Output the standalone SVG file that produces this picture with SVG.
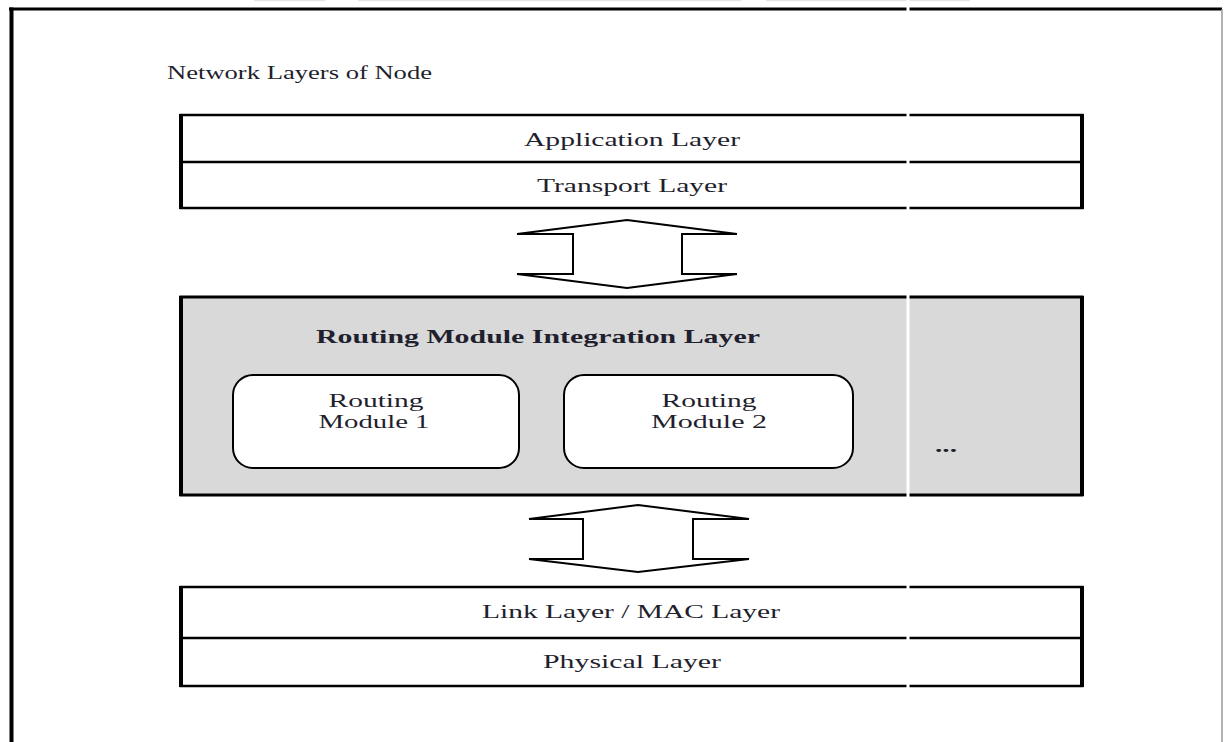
<svg xmlns="http://www.w3.org/2000/svg" width="1224" height="742" viewBox="0 0 1224 742">
  <style>
    .lbl { font-family: "Liberation Serif", "Times New Roman", serif; font-size: 19px; fill: #1f1f2e; text-anchor: middle; }
    .bold { font-weight: bold; }
    .box { fill: #ffffff; stroke: #000000; stroke-width: 2.5; }
    .side { stroke: #000000; stroke-width: 4; }
    .gray { fill: #d9d9d9; stroke: #000000; stroke-width: 3; }
    .module { fill: #ffffff; stroke: #000000; stroke-width: 2; }
    .arrow { fill: #ffffff; stroke: #000000; stroke-width: 2; stroke-linejoin: miter; }
  </style>

  <!-- page edge shading at the top -->
  <g id="page-edge" stroke="#e4e4e4" stroke-width="1.5">
    <line x1="254" y1="0.5" x2="325" y2="0.5"/>
    <line x1="358" y1="0.5" x2="741" y2="0.5"/>
    <line x1="766" y1="0.5" x2="970" y2="0.5"/>
  </g>

  <!-- outer frame -->
  <g id="frame">
    <line x1="9" y1="9" x2="1222" y2="9" stroke="#000" stroke-width="3"/>
    <line x1="11.5" y1="7.5" x2="11.5" y2="742" stroke="#000" stroke-width="4"/>
    <line x1="1222" y1="9" x2="1222" y2="742" stroke="#9a9a9a" stroke-width="1.5"/>
  </g>

  <text id="title" class="lbl" x="299.5" y="79" textLength="265" lengthAdjust="spacingAndGlyphs">Network Layers of Node</text>

  <!-- upper stack: application / transport -->
  <g id="upper-stack">
    <rect class="box" x="181" y="115" width="901" height="93"/>
    <line x1="181" y1="162" x2="1082" y2="162" stroke="#000" stroke-width="2.5"/>
    <line class="side" x1="181" y1="114" x2="181" y2="209"/>
    <line class="side" x1="1082" y1="114" x2="1082" y2="209"/>
    <text class="lbl" x="632" y="146" textLength="216" lengthAdjust="spacingAndGlyphs">Application Layer</text>
    <text class="lbl" x="632" y="192" textLength="190" lengthAdjust="spacingAndGlyphs">Transport Layer</text>
  </g>

  <!-- routing module integration layer -->
  <g id="integration-layer">
    <rect class="gray" x="181" y="297" width="901" height="198"/>
    <line class="side" x1="181" y1="296" x2="181" y2="496"/>
    <line class="side" x1="1082" y1="296" x2="1082" y2="496"/>
    <text class="lbl bold" x="538" y="343" textLength="444" lengthAdjust="spacingAndGlyphs">Routing Module Integration Layer</text>
    <text class="lbl bold" x="946" y="452" textLength="22" lengthAdjust="spacingAndGlyphs">...</text>
  </g>

  <g id="routing-module-1">
    <rect class="module" x="233" y="375" width="286" height="93" rx="20" ry="20"/>
    <text class="lbl" x="376" y="407" textLength="95" lengthAdjust="spacingAndGlyphs">Routing</text>
    <text class="lbl" x="374" y="428" textLength="111" lengthAdjust="spacingAndGlyphs">Module 1</text>
  </g>

  <g id="routing-module-2">
    <rect class="module" x="564" y="375" width="289" height="93" rx="20" ry="20"/>
    <text class="lbl" x="709" y="407" textLength="95" lengthAdjust="spacingAndGlyphs">Routing</text>
    <text class="lbl" x="709" y="428" textLength="116" lengthAdjust="spacingAndGlyphs">Module 2</text>
  </g>

  <!-- lower stack: link / physical -->
  <g id="lower-stack">
    <rect class="box" x="181" y="587" width="901" height="99"/>
    <line x1="181" y1="638" x2="1082" y2="638" stroke="#000" stroke-width="2.5"/>
    <line class="side" x1="181" y1="586" x2="181" y2="687"/>
    <line class="side" x1="1082" y1="586" x2="1082" y2="687"/>
    <text class="lbl" x="631" y="618" textLength="298" lengthAdjust="spacingAndGlyphs">Link Layer / MAC Layer</text>
    <text class="lbl" x="632" y="668" textLength="178" lengthAdjust="spacingAndGlyphs">Physical Layer</text>
  </g>

  <!-- two-way block arrows between layers -->
  <g id="connectors">
    <polygon class="arrow" points="627,220 737,234 682,234 682,274 737,274 627,288 517,274 573,274 573,234 517,234"/>
    <polygon class="arrow" points="638,505 749,519 693,519 693,559 749,559 638,572 529,559 583,559 583,519 529,519"/>
  </g>

  <!-- white fold line running down the page -->
  <line id="fold" x1="908" y1="0" x2="908" y2="742" stroke="#ffffff" stroke-width="3"/>
</svg>
